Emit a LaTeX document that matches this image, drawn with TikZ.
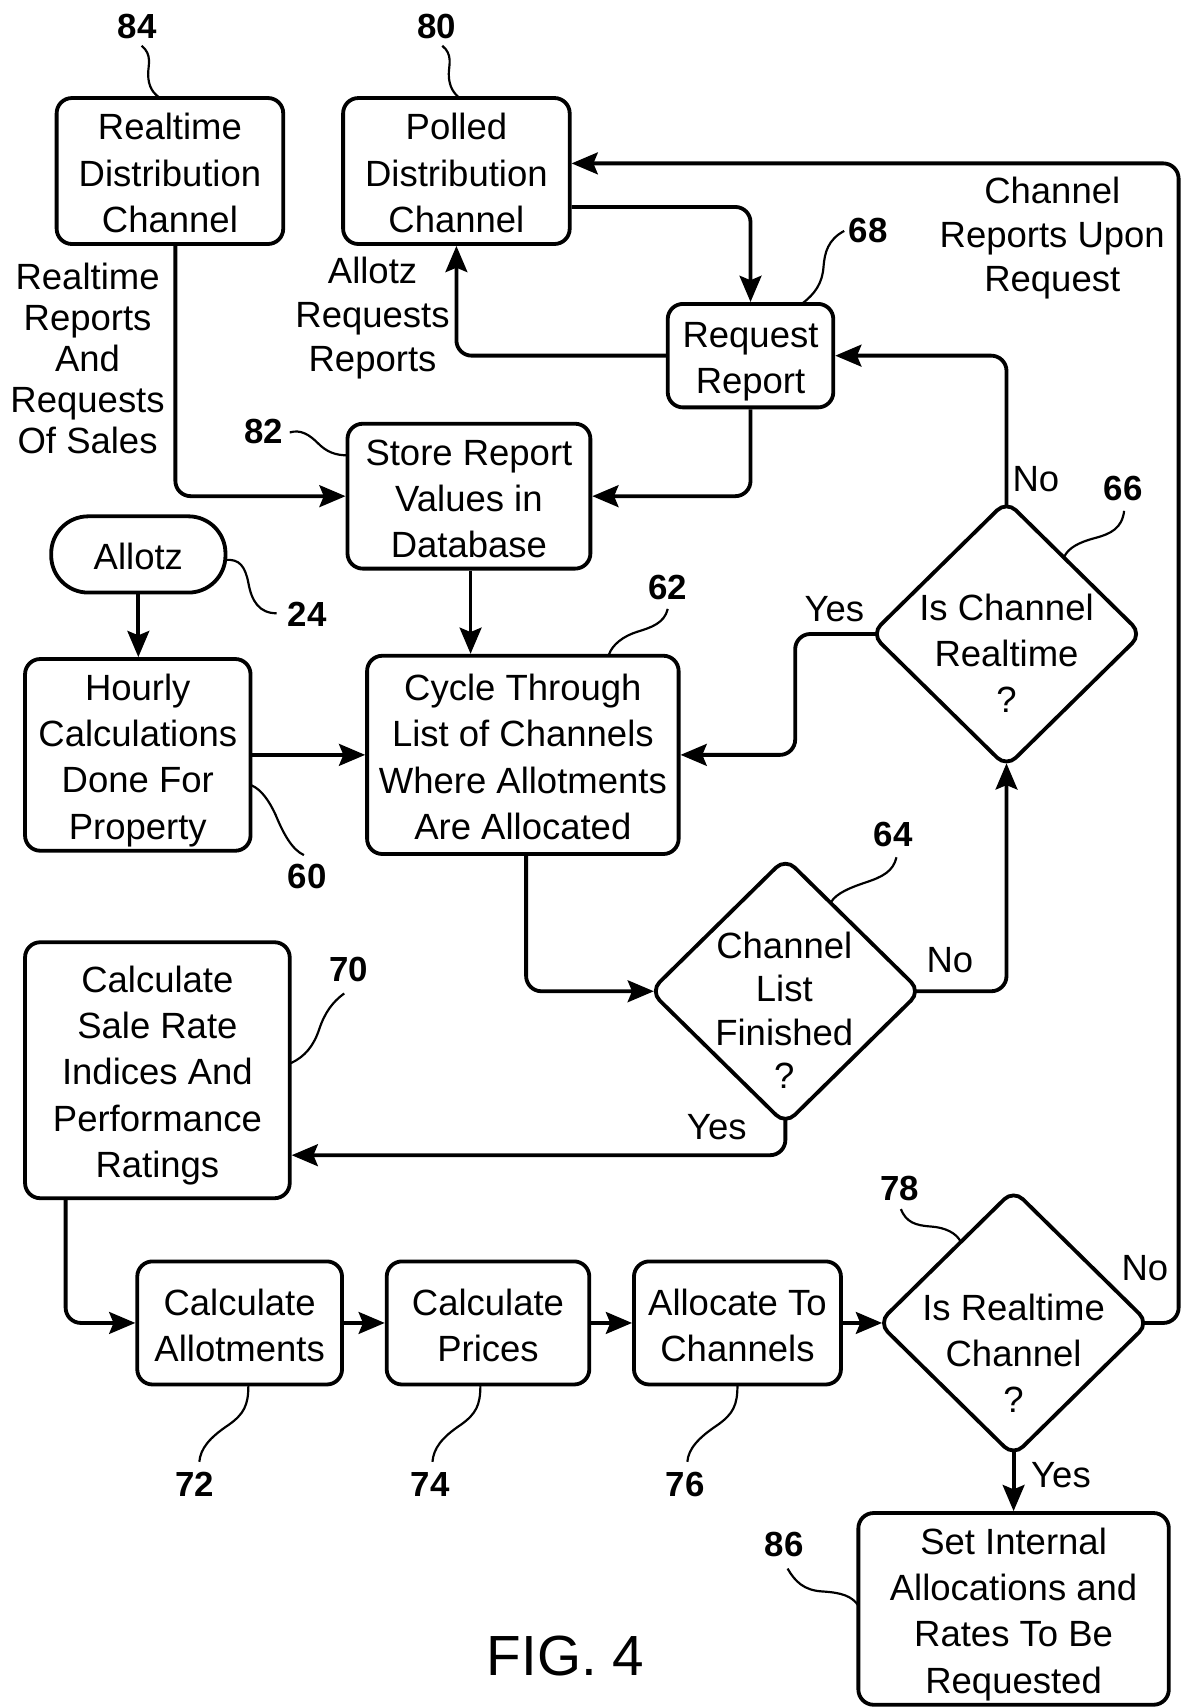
\documentclass[tikz,border=0pt]{standalone}
\usepackage{fontspec}
\setmainfont{Liberation Sans}
\usetikzlibrary{arrows.meta,shapes.geometric,calc}
\newcommand\zs{\rule[-10.7pt]{0pt}{40pt}}
\newcommand\zb{\rule[-6pt]{0pt}{40pt}}
\begin{document}
\begin{tikzpicture}[x=1pt,y=-1pt,
  txt/.style={font=\fontsize{33.5}{42.5}\selectfont, align=center, inner sep=0pt},
  box/.style={txt, draw, line width=3.5pt, rounded corners=14pt},
  dia/.style={draw, diamond, line width=3.5pt, rounded corners=12pt, inner sep=0pt,
              outer sep=0pt, minimum width=248pt, minimum height=244pt},
  num/.style={font=\fontsize{32}{38}\selectfont\bfseries, inner sep=0pt},
  lbl/.style={font=\fontsize{33.5}{40}\selectfont, inner sep=0pt},
  lead/.style={line width=2pt},
  arr/.style={line width=3.5pt, rounded corners=14pt, -{Stealth[length=24pt,width=20pt,inset=4pt]}},
]
\useasboundingbox (0,0) rectangle (1085,1568);

% boxes
\node[box, minimum width=208pt, minimum height=134pt] (b84) at (156,157) {\zb Realtime\\Distribution\\Channel\zb};
\node[box, minimum width=208pt, minimum height=134pt] (b80) at (419,157) {\zb Polled\\Distribution\\Channel\zb};
\node[box, minimum width=152pt, minimum height=95pt] (b68) at (689,326.5) {\zb Request\\Report\zb};
\node[box, minimum width=223pt, minimum height=133pt] (b82) at (430.5,455.5) {\zb Store Report\\Values in\\Database\zb};
\node[box, rounded corners=34pt, minimum width=160pt, minimum height=70pt] (allotz) at (127,509) {\zb Allotz\zb};
\node[box, minimum width=207pt, minimum height=176pt] (b60) at (126.5,693) {\zb Hourly\\Calculations\\Done For\\Property\zb};
\node[box, minimum width=286pt, minimum height=182pt] (b62) at (480,693) {\zb Cycle Through\\List of Channels\\Where Allotments\\Are Allocated\zb};
\node[box, minimum width=243pt, minimum height=235pt] (b70) at (144.5,982.5) {\zb Calculate\\Sale Rate\\Indices And\\Performance\\Ratings\zb};
\node[box, minimum width=188pt, minimum height=113pt] (b72) at (220,1214.5) {\zb Calculate\\Allotments\zb};
\node[box, minimum width=186pt, minimum height=113pt] (b74) at (448,1214.5) {\zb Calculate\\Prices\zb};
\node[box, minimum width=190pt, minimum height=113pt] (b76) at (677,1214.5) {\zb Allocate To\\Channels\zb};
\node[box, minimum width=285pt, minimum height=176pt] (b86) at (930.5,1477) {\zb Set Internal\\Allocations and\\Rates To Be\\Requested\zb};

% diamonds
\node[dia] (d66) at (924,582) {};
\node[txt] (t66) at (924,602.6) {\zs Is Channel\\Realtime\\?\zs};
\node[dia] (d64) at (721,910) {};
\node[txt, font=\fontsize{33.5}{39.8}\selectfont] (t64) at (720,930.4) {\zs Channel\\List\\Finished\\?\zs};
\node[dia] (d78) at (930.5,1214.5) {};
\node[txt] (t78) at (930.5,1245.2) {\zs Is Realtime\\Channel\\?\zs};

% free texts
\node[txt, font=\fontsize{33.5}{37.8}\selectfont] (tRT) at (80.4,331.8) {\zs Realtime\\Reports\\And\\Requests\\Of Sales\zs};
\node[txt, font=\fontsize{33.5}{40.4}\selectfont] (tAR) at (342,291.4) {\zs Allotz\\Requests\\Reports\zs};
\node[txt, font=\fontsize{33.5}{40.4}\selectfont] (tCR) at (966,217.7) {\zs Channel\\Reports Upon\\Request\zs};

% yes / no labels
\node[lbl] (no66) at (951,440) {No};
\node[lbl] (yes66) at (766,559) {Yes};
\node[lbl] (no64) at (872,881) {No};
\node[lbl] (yes64) at (658,1035) {Yes};
\node[lbl] (no78) at (1051,1164) {No};
\node[lbl] (yes78) at (974,1354) {Yes};

% reference numbers
\node[num] (n84) at (126,24) {84};
\node[num] (n80) at (401,24) {80};
\node[num] (n68) at (797,212) {68};
\node[num] (n82) at (242,396) {82};
\node[num] (n66) at (1031,448) {66};
\node[num] (n24) at (282,564) {24};
\node[num] (n62) at (613,539) {62};
\node[num] (n60) at (282,805) {60};
\node[num] (n64) at (820,766) {64};
\node[num] (n70) at (320,890) {70};
\node[num] (n78) at (826,1091) {78};
\node[num] (n72) at (179,1363) {72};
\node[num] (n74) at (395,1363) {74};
\node[num] (n76) at (629,1363) {76};
\node[num] (n86) at (720,1418) {86};

\node[font=\fontsize{52}{60}\selectfont, inner sep=0pt] (fig) at (519,1520) {FIG. 4};

% leader lines
\draw[lead] (130,42) .. controls (140,50) and (136,60) .. (136,68) .. controls (136,80) and (141,86) .. (147,90);
\draw[lead] (406,42) .. controls (416,50) and (412,60) .. (412,68) .. controls (412,80) and (417,86) .. (422,90);
\draw[lead] (775,212) .. controls (760,220) and (757,232) .. (756,245) .. controls (755,260) and (748,270) .. (736,279);
\draw[lead] (266,397) .. controls (276,394) and (284,399) .. (292,407) .. controls (300,415) and (308,418) .. (319,418);
\draw[lead] (1032,469) .. controls (1030,485) and (1020,490) .. (1005,494) .. controls (990,498) and (981,503) .. (977,511);
\draw[lead] (207,514) .. controls (220,513) and (225,520) .. (228,535) .. controls (231,552) and (238,563) .. (254,563);
\draw[lead] (613,559) .. controls (610,572) and (598,576) .. (585,580) .. controls (572,584) and (562,592) .. (559,601);
\draw[lead] (231,721) .. controls (240,725) and (247,735) .. (253,748) .. controls (260,765) and (268,780) .. (279,785);
\draw[lead] (823,787) .. controls (820,800) and (810,805) .. (795,810) .. controls (780,815) and (768,820) .. (763,828);
\draw[lead] (316,912) .. controls (305,920) and (298,930) .. (293,945) .. controls (288,960) and (280,970) .. (267,976);
\draw[lead] (827,1110) .. controls (832,1122) and (840,1125) .. (855,1126) .. controls (868,1127) and (878,1132) .. (882,1140);
\draw[lead] (228,1272) .. controls (228,1290) and (224,1298) .. (210,1308) .. controls (192,1320) and (184,1330) .. (183,1342);
\draw[lead] (441,1272) .. controls (441,1290) and (437,1298) .. (423,1308) .. controls (405,1320) and (398,1330) .. (397,1342);
\draw[lead] (677,1272) .. controls (677,1290) and (673,1298) .. (659,1308) .. controls (641,1320) and (632,1330) .. (631,1342);
\draw[lead] (723,1440) .. controls (730,1452) and (738,1460) .. (755,1461) .. controls (772,1462) and (782,1465) .. (788,1474);

% connectors
\draw[arr] ($(b84.south)+(5,0)$) |- (b82.west);
\draw[arr] ($(b80.east)+(0,33)$) -| (b68.north);
\draw[arr] (b68.west) -| (b80.south);
\draw[arr] (b68.south) |- (b82.east);
\draw[arr] ($(b82.south)+(1.5,0)$) -- ($(b82.south |- b62.north)+(1.5,0)$);
\draw[arr] (allotz.south) -- (allotz.south |- b60.north);
\draw[arr] (b60.east) -- (b62.west);
\draw[arr, shorten >=-3.25pt] ($(b62.south)+(3,0)$) |- (d64.west);
\draw[arr, shorten <=-5pt, shorten >=-3.25pt] (d64.east) -| (d66.south);
\draw[arr, shorten <=-5pt] (d66.west) -| (730,640) |- (b62.east);
\draw[arr, shorten <=-5pt] (d66.north) |- (b68.east);
\draw[arr, shorten <=-5pt] (d64.south) |- ($(b70.east)+(0,78)$);
\draw[arr] ($(b70.south west)+(39,0)$) |- (b72.west);
\draw[arr] (b72.east) -- (b74.west);
\draw[arr] (b74.east) -- (b76.west);
\draw[arr, shorten >=-3.25pt] (b76.east) -- (d78.west);
\draw[arr, shorten <=-5pt] (d78.east) -| (1082,600) |- ($(b80.east)+(0,-7)$);
\draw[arr, shorten <=-5pt] (d78.south) -- (b86.north);
\end{tikzpicture}
\end{document}
